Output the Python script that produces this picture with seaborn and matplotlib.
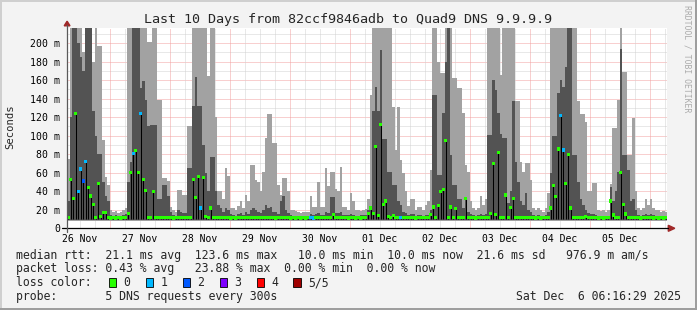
import numpy as np
import pandas as pd
import matplotlib
matplotlib.use("Agg")
import matplotlib.pyplot as plt
import seaborn as sns
from matplotlib.patches import Rectangle, Polygon
from matplotlib.lines import Line2D

# ---------------- data (1 value per hour, 240 hours = 10 days) ----------------
light_top = [
    75, 216, 216, 216, 216, 216, 190, 216, 216, 216, 180, 216, 197, 197, 95, 55, 47, 20, 18, 19, 17, 18, 20, 22,
    216, 216, 216, 216, 216, 216, 216, 216, 201, 201, 216, 216, 138, 138, 54, 54, 51, 23, 20, 18, 41, 41, 36, 36,
    110, 110, 216, 216, 216, 216, 216, 216, 164, 216, 216, 120, 40, 40, 32, 65, 56, 22, 22, 20, 24, 29, 22, 36,
    30, 68, 68, 52, 50, 40, 61, 97, 123, 123, 92, 92, 47, 36, 54, 54, 40, 20, 20, 19, 18, 17, 18, 18,
    18, 35, 23, 23, 50, 23, 23, 65, 46, 61, 61, 42, 40, 66, 23, 23, 20, 38, 30, 20, 20, 19, 20, 21,
    32, 144, 216, 216, 216, 216, 216, 216, 216, 216, 131, 85, 131, 74, 60, 40, 24, 32, 32, 20, 23, 23, 20, 25,
    30, 63, 216, 216, 180, 168, 168, 216, 216, 216, 162, 162, 151, 151, 125, 68, 61, 30, 22, 20, 22, 35, 25, 32,
    216, 216, 216, 216, 216, 165, 216, 216, 216, 216, 216, 137, 137, 72, 61, 70, 70, 52, 22, 20, 22, 20, 18, 22,
    38, 216, 216, 216, 216, 216, 216, 216, 216, 216, 216, 216, 137, 123, 123, 115, 40, 40, 49, 49, 20, 19, 20, 18,
    20, 48, 108, 108, 138, 216, 169, 169, 79, 79, 119, 40, 22, 20, 22, 32, 25, 32, 22, 20, 20, 18, 19, 18,
]
dark_top = [
    30, 120, 216, 216, 200, 185, 170, 216, 216, 216, 127, 100, 80, 80, 50, 35, 30, 14, 13, 14, 13, 13, 14, 15,
    50, 72, 216, 216, 216, 152, 159, 139, 110, 111, 111, 111, 32, 32, 47, 47, 35, 18, 14, 13, 20, 18, 16, 16,
    65, 65, 132, 163, 132, 132, 90, 60, 40, 77, 77, 40, 25, 22, 18, 22, 20, 15, 14, 13, 15, 16, 14, 18,
    15, 20, 22, 20, 18, 17, 20, 25, 22, 23, 18, 18, 15, 30, 35, 20, 16, 14, 13, 13, 13, 13, 13, 13,
    13, 15, 14, 15, 17, 14, 14, 18, 16, 34, 34, 17, 16, 18, 14, 14, 14, 15, 14, 13, 13, 14, 14, 14,
    20, 22, 127, 153, 127, 192, 96, 96, 61, 61, 47, 47, 30, 25, 18, 16, 14, 15, 15, 13, 14, 14, 13, 14,
    14, 20, 144, 144, 58, 58, 124, 180, 216, 79, 47, 47, 32, 32, 22, 34, 18, 15, 14, 13, 14, 15, 14, 15,
    101, 101, 160, 149, 125, 102, 97, 97, 27, 40, 137, 72, 50, 30, 25, 38, 20, 18, 14, 13, 14, 13, 13, 14,
    18, 60, 100, 100, 146, 160, 153, 174, 216, 216, 79, 79, 50, 32, 25, 20, 16, 15, 15, 14, 13, 13, 13, 13,
    13, 45, 30, 40, 61, 194, 79, 79, 63, 30, 32, 20, 14, 13, 14, 15, 14, 15, 14, 13, 13, 13, 13, 13,
]
median_rtt = [
    11.5, 53, 32, 124, 40, 64, 51, 72, 44, 35, 26, 12, 48.5, 13, 17, 17, 12, 11, 11.5, 11, 11.5, 11, 11.5, 12,
    16, 60, 81, 84, 60, 124, 53, 41, 12, 12, 40, 12, 12, 11.5, 12, 12, 11.5, 11.5, 11, 11.5, 12, 11.5, 11.5, 12,
    12, 12, 53, 33.5, 56, 22, 55, 13, 12, 22, 12, 11.5, 12, 11.5, 11.5, 12, 11.5, 11, 11.5, 11, 11.5, 12, 11.5, 11.5,
    11.5, 12, 11.5, 11.5, 12, 11.5, 11.5, 12, 11.5, 12, 11.5, 11, 11.5, 12, 11.5, 12, 11.5, 11, 11.5, 11, 11.5, 11, 11.5, 11,
    11.5, 11.5, 11, 11.5, 12, 11.5, 12, 11.5, 12, 11.5, 15, 12, 11.5, 11.5, 12, 11.5, 11, 11.5, 11.5, 11, 11.5, 11, 11.5, 12,
    16, 22, 16, 88, 14, 112, 26, 29.5, 12.6, 12, 14, 12, 11.5, 11.5, 12, 11.5, 11.5, 12, 11.5, 11, 11.5, 12, 11.5, 12,
    12, 15, 23, 12, 25, 40, 42, 95, 12, 23, 12, 21.6, 12, 11.5, 12, 32, 12, 11.5, 11.5, 11, 11.5, 12, 11.5, 12,
    12, 16, 70, 15, 82, 12, 12, 36, 12, 22.7, 32, 12, 11.5, 12, 11.5, 11.5, 12, 11.5, 11.5, 11, 11.5, 11, 11.5, 11.5,
    12, 22, 46, 34, 85.6, 122, 84.5, 48, 80, 22, 12, 12, 11.5, 12, 11.5, 12.6, 11.5, 12, 11.5, 11.5, 11, 11.5, 11, 11.5,
    11.5, 29.5, 14.4, 12, 12, 60, 26, 15.5, 12, 11.5, 12, 11.5, 11.5, 11, 11.5, 12, 11.5, 11.5, 11, 11.5, 11, 11.5, 11, 11.5,
]
# hours (index) with packet loss (number of lost pings out of 5); others are 0
loss_hours = [4, 5, 6, 7, 26, 29, 53, 97, 98, 133, 197, 198]
loss_counts = [1, 1, 2, 1, 1, 1, 1, 1, 1, 1, 1, 1]

loss_names = ["0", "1", "2", "3", "4", "5/5"]
loss_colors = ["#26ff00", "#00b8ff", "#0059ff", "#7e00ff", "#ff0000", "#a00000"]

day_labels = ["26 Nov", "27 Nov", "28 Nov", "29 Nov", "30 Nov",
              "01 Dec", "02 Dec", "03 Dec", "04 Dec", "05 Dec"]
first_label_hour = 5.2      # noon of first day, hours from graph start
first_midnight_hour = 17.2
ytick_values = [0, 20, 40, 60, 80, 100, 120, 140, 160, 180, 200]
ytick_labels = ["0", "20 m", "40 m", "60 m", "80 m", "100 m", "120 m",
                "140 m", "160 m", "180 m", "200 m"]

title = "Last 10 Days from 82ccf9846adb to Quad9 DNS 9.9.9.9"
legend_rtt = "median rtt:  21.1 ms avg  123.6 ms max   10.0 ms min  10.0 ms now  21.6 ms sd   976.9 m am/s"
legend_loss = "packet loss: 0.43 % avg   23.88 % max  0.00 % min  0.00 % now"
legend_probe = "probe:       5 DNS requests every 300s"
stamp = "Sat Dec  6 06:16:29 2025"

# ---------------- figure ----------------
W, H = 697, 310
sns.set_style("white")
plt.rcParams["font.family"] = ["DejaVu Sans Mono"]

fig = plt.figure(figsize=(W / 100, H / 100), dpi=100)
fig.patch.set_facecolor("#f3f3f3")


def fx(x):
    return x / W


def fy(y):
    return 1 - y / H


PL, PR, PT, PB = 67, 667, 27.7, 228.3
YMAX = 216.6
ax = fig.add_axes([fx(PL), fy(PB), (PR - PL) / W, (PB - PT) / H])
ax.set_facecolor("white")
for s in ax.spines.values():
    s.set_visible(False)

GRID_MINOR = "#d2d2d2"
GRID_MAJOR = "#f2a0a0"
for v in range(10, 217, 10):
    ax.axhline(v, color=GRID_MAJOR if v % 20 == 0 else GRID_MINOR,
               lw=0.72, ls=(0, (1, 1)), zorder=1)
h = first_label_hour
while h < 240:
    is_major = abs(((h - first_midnight_hour) % 24)) < 1e-6
    ax.axvline(h, color=GRID_MAJOR if is_major else GRID_MINOR,
               lw=0.72, ls=(0, (1, 1)), zorder=1)
    h += 6

hours = np.arange(len(median_rtt))
edges = np.arange(len(median_rtt) + 1)
lt = np.append(light_top, light_top[-1])
dt = np.append(dark_top, dark_top[-1])
LIGHT_LO, DARK_LO = 8.0, 9.5
ax.fill_between(edges, LIGHT_LO, lt, step="post", color="#a2a2a2", lw=0, zorder=2)
ax.fill_between(edges, DARK_LO, dt, step="post", color="#535353", lw=0, zorder=3)

med = np.array(median_rtt)
ax.vlines(hours + 0.5, 10, med, color="black", lw=0.75, zorder=4)

loss = np.zeros(len(med), dtype=int)
for hh, c in zip(loss_hours, loss_counts):
    loss[hh] = c
df = pd.DataFrame({"hour": hours + 0.5, "median": med,
                   "loss": [loss_names[i] for i in loss]})
sns.scatterplot(data=df, x="hour", y="median", hue="loss",
                palette=dict(zip(loss_names, loss_colors)),
                marker="s", s=5.5, linewidth=0, legend=False, ax=ax, zorder=5)

ax.set_xlim(0, 240)
ax.set_ylim(0, YMAX)
ax.set_xlabel("")
ax.set_ylabel("")
ax.set_xticks([first_label_hour + 24 * k for k in range(len(day_labels))], day_labels)
ax.set_yticks(ytick_values, ytick_labels)
ax.tick_params(axis="x", length=0, pad=4.2, labelsize=7.0, colors="#000000")
ax.tick_params(axis="y", length=0, pad=5.0, labelsize=7.1, colors="#000000")

# axes lines + arrows
fig.add_artist(Line2D([fx(62), fx(668)], [fy(228.3), fy(228.3)], color="black", lw=0.9))
fig.add_artist(Line2D([fx(67), fx(67)], [fy(231.5), fy(25)], color="#5a5a5a", lw=0.9))
fig.add_artist(Polygon([[fx(64.2), fy(25.8)], [fx(70.0), fy(25.8)], [fx(67.1), fy(21.2)]],
                       closed=True, color="#a02828", transform=fig.transFigure))
fig.add_artist(Polygon([[fx(668.3), fy(225.3)], [fx(668.3), fy(231.3)], [fx(674.8), fy(228.3)]],
                       closed=True, color="#a02828", transform=fig.transFigure))

# border shading
fig.add_artist(Rectangle((0, fy(2)), 1, 2 / H, color="#cfcfcf", transform=fig.transFigure, lw=0))
fig.add_artist(Rectangle((0, 0), 2 / W, 1, color="#cfcfcf", transform=fig.transFigure, lw=0))
fig.add_artist(Rectangle((0, 0), 1, 2 / H, color="#9e9e9e", transform=fig.transFigure, lw=0))
fig.add_artist(Rectangle((fx(W - 2), 0), 2 / W, 1, color="#9e9e9e", transform=fig.transFigure, lw=0))

# texts
fig.text(fx(348), fy(19), title, ha="center", va="center", fontsize=9.6)
fig.text(fx(10.5), fy(127), "Seconds", ha="center", va="center", rotation=90, fontsize=7.6)
fig.text(fx(687.5), fy(59), "RRDTOOL / TOBI OETIKER", ha="center", va="center",
         rotation=270, fontsize=5.9, color="#ababab")

LX = 16.2
LFS = 8.3
fig.text(fx(LX), fy(255), legend_rtt, ha="left", va="center", fontsize=LFS)
fig.text(fx(LX), fy(268.5), legend_loss, ha="left", va="center", fontsize=LFS)
fig.text(fx(LX), fy(282.5), "loss color:", ha="left", va="center", fontsize=LFS)
for k, (name, col) in enumerate(zip(loss_names, loss_colors)):
    x0 = 108.9 + 36.9 * k
    fig.add_artist(Rectangle((fx(x0), fy(286.7)), 7.3 / W, 8.4 / H, facecolor=col,
                             edgecolor="black", lw=0.6, transform=fig.transFigure))
    fig.text(fx(x0 + 14.5), fy(282.5), name, ha="left", va="center", fontsize=LFS)
fig.text(fx(LX), fy(296.5), legend_probe, ha="left", va="center", fontsize=LFS)
fig.text(fx(680.5), fy(296.5), stamp, ha="right", va="center", fontsize=LFS)

fig.savefig("out.png", dpi=100, facecolor=fig.get_facecolor())
